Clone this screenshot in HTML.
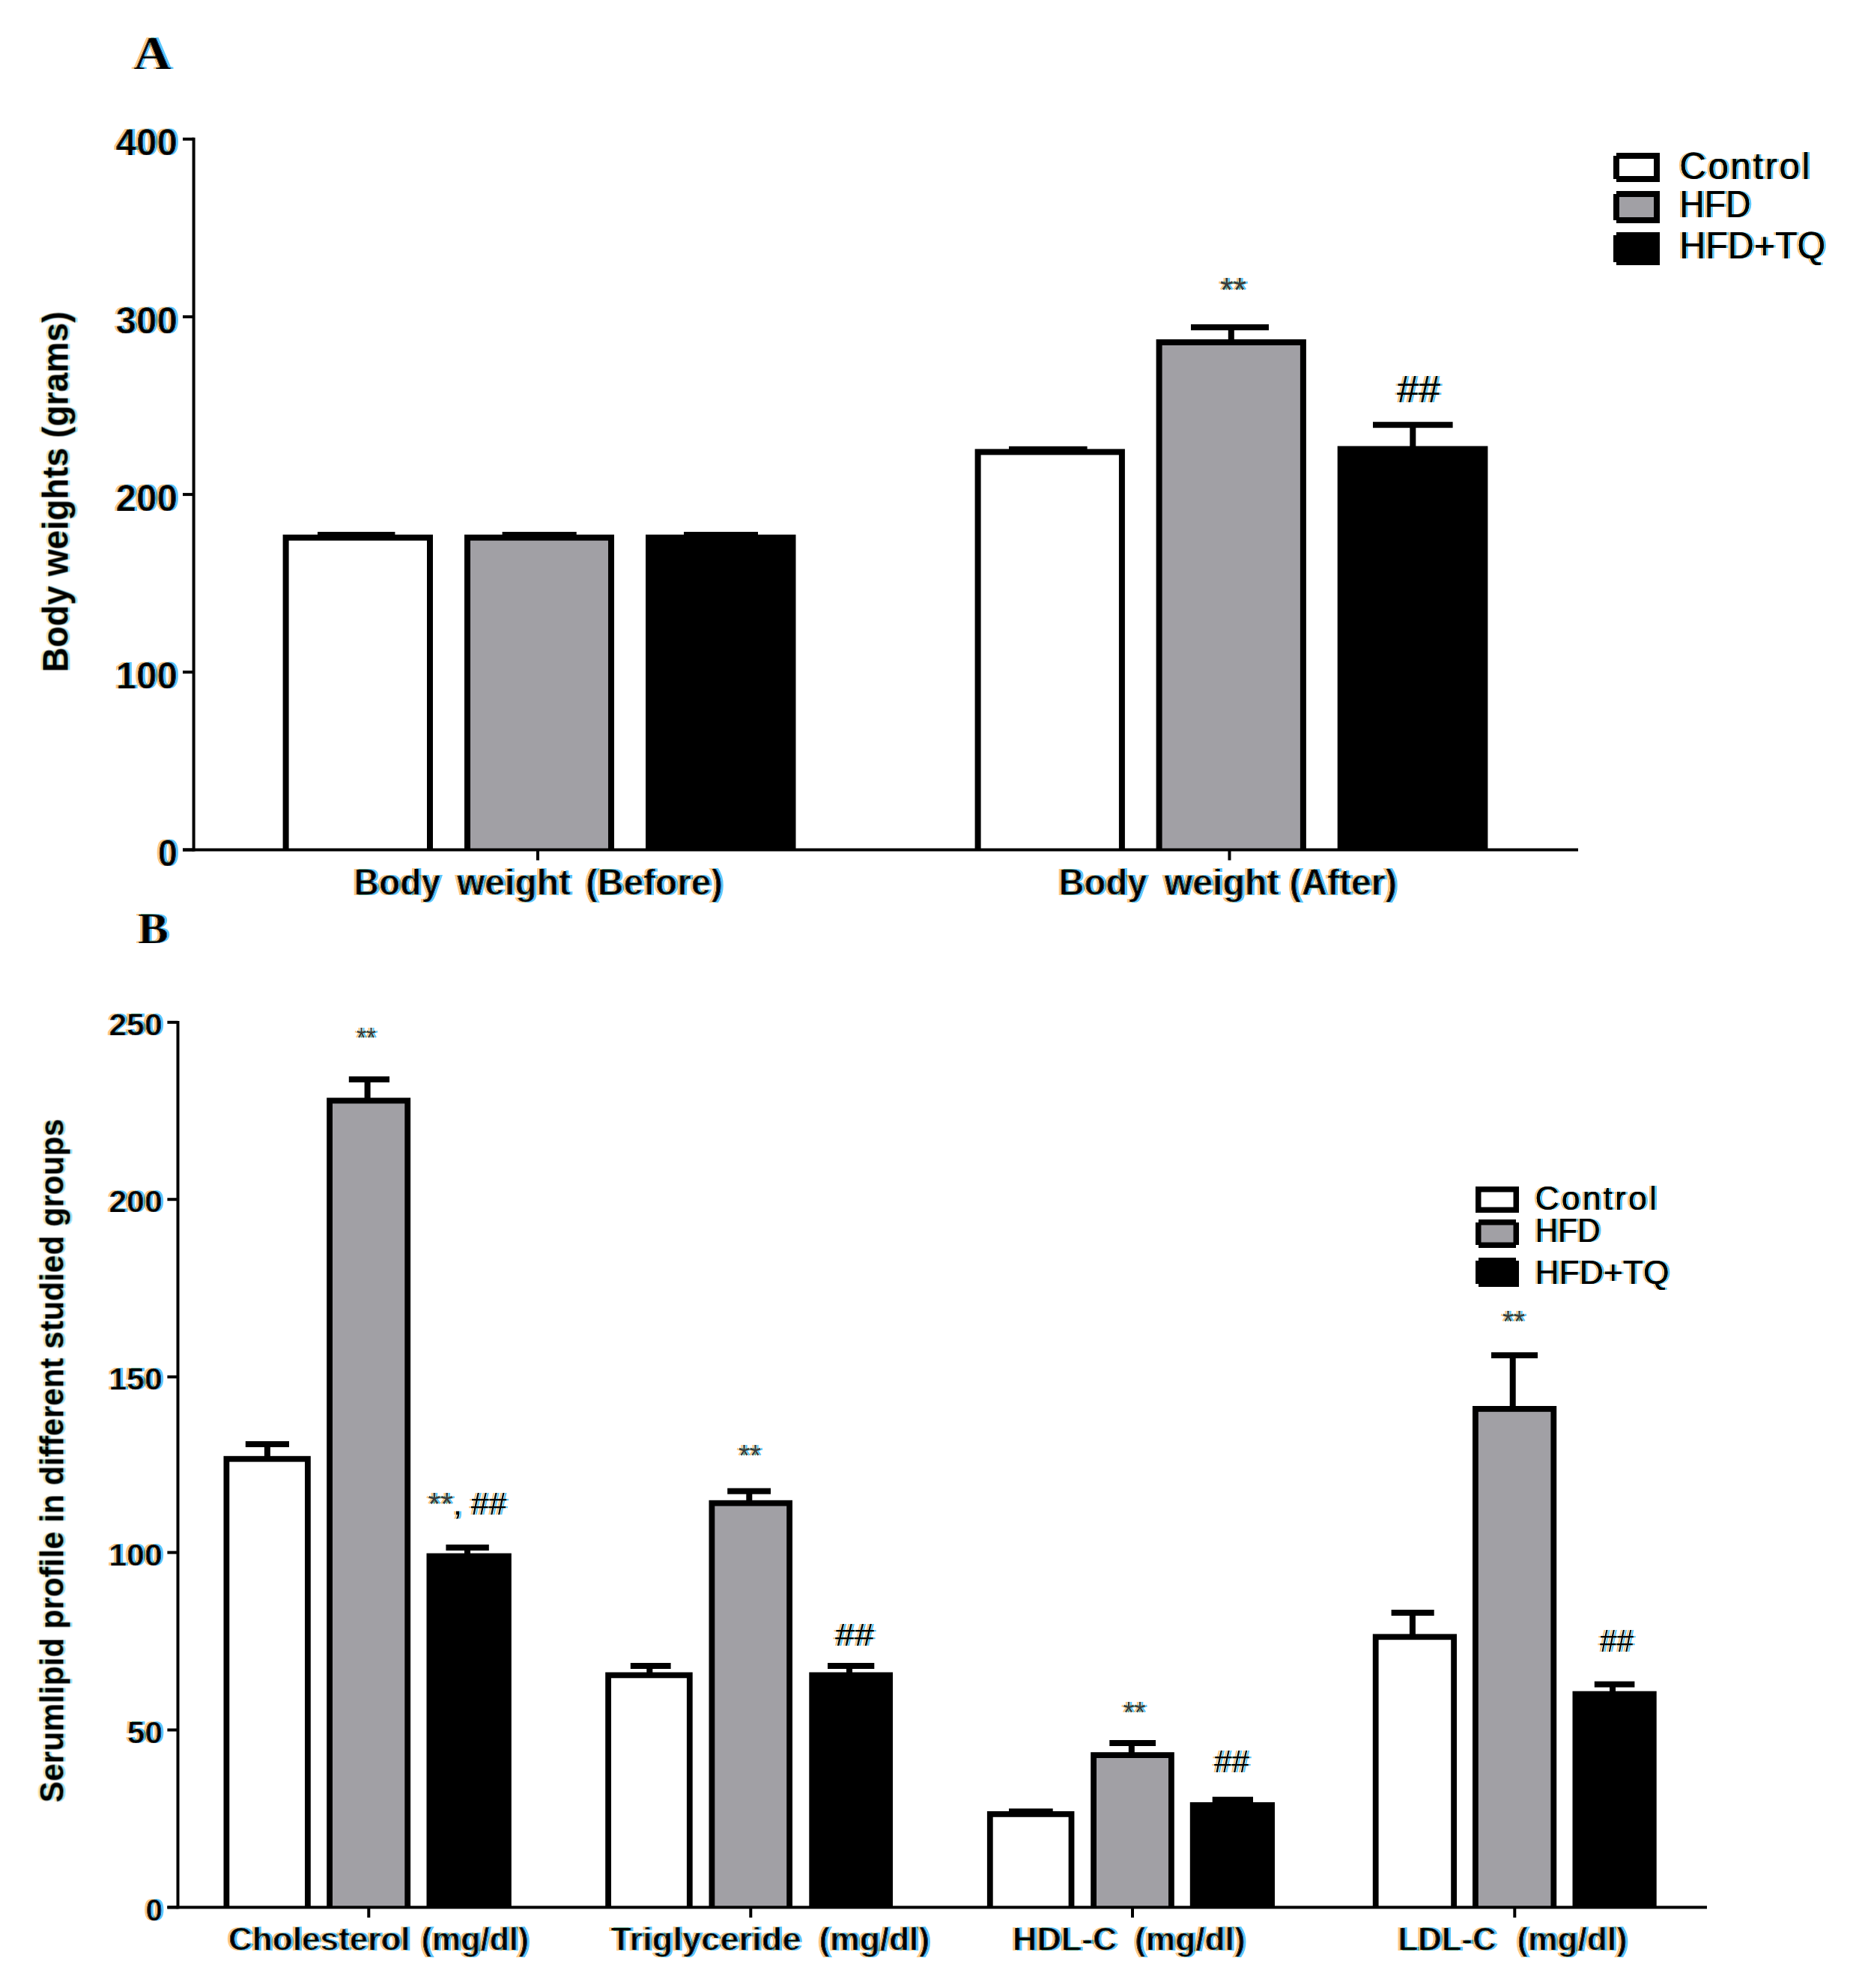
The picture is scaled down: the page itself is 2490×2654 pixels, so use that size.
<!DOCTYPE html>
<html><head><meta charset="utf-8"><title>Figure</title>
<style>html,body{margin:0;padding:0;background:#fff}svg{display:block}text{fill:#000}</style>
</head><body>
<svg width="2490" height="2654" viewBox="0 0 2490 2654">
<defs>
<filter id="ct" x="-10%" y="-20%" width="120%" height="140%" color-interpolation-filters="sRGB"><feOffset in="SourceGraphic" dx="0" dy="0" result="base"/><feOffset in="SourceAlpha" dx="-3.0" dy="0" result="l"/><feFlood flood-color="#ffc982" result="fo"/><feComposite in="fo" in2="l" operator="in" result="lo"/><feOffset in="SourceAlpha" dx="3.0" dy="0" result="r"/><feFlood flood-color="#5ac8ff" result="fc"/><feComposite in="fc" in2="r" operator="in" result="ro"/><feBlend in="lo" in2="ro" mode="multiply" result="fr"/><feMerge><feMergeNode in="fr"/><feMergeNode in="base"/></feMerge></filter>
<filter id="ctb" x="-10%" y="-20%" width="120%" height="140%" color-interpolation-filters="sRGB"><feOffset in="SourceGraphic" dx="0" dy="0.5" result="b1"/><feOffset in="SourceGraphic" dx="0" dy="-0.5" result="b2"/><feComposite in="b1" in2="b2" operator="in" result="base"/><feOffset in="SourceAlpha" dx="-3.2" dy="0" result="l"/><feFlood flood-color="#ffc982" result="fo"/><feComposite in="fo" in2="l" operator="in" result="lo"/><feOffset in="SourceAlpha" dx="3.2" dy="0" result="r"/><feFlood flood-color="#5ac8ff" result="fc"/><feComposite in="fc" in2="r" operator="in" result="ro"/><feBlend in="lo" in2="ro" mode="multiply" result="fr"/><feOffset in="base" dx="1.2" dy="0" result="s1"/><feComposite in="base" in2="s1" operator="out" result="sl"/><feFlood flood-color="#8a4010" result="fsl"/><feComposite in="fsl" in2="sl" operator="in" result="slo"/><feOffset in="base" dx="-1.2" dy="0" result="s2"/><feComposite in="base" in2="s2" operator="out" result="sr"/><feFlood flood-color="#0c48a8" result="fsr"/><feComposite in="fsr" in2="sr" operator="in" result="sro"/><feMerge><feMergeNode in="fr"/><feMergeNode in="base"/><feMergeNode in="slo"/><feMergeNode in="sro"/></feMerge></filter>
<filter id="ctvb" x="-5%" y="-40%" width="110%" height="180%" color-interpolation-filters="sRGB"><feOffset in="SourceGraphic" dx="0" dy="0" result="base"/><feOffset in="SourceAlpha" dx="0" dy="-3.2" result="l"/><feFlood flood-color="#ffe2a0" result="fo"/><feComposite in="fo" in2="l" operator="in" result="lo"/><feOffset in="SourceAlpha" dx="0" dy="3.2" result="r"/><feFlood flood-color="#8fe0ff" result="fc"/><feComposite in="fc" in2="r" operator="in" result="ro"/><feBlend in="lo" in2="ro" mode="multiply" result="fr"/><feMerge><feMergeNode in="fr"/><feMergeNode in="base"/></feMerge></filter>
<filter id="ctx" x="-10%" y="-20%" width="120%" height="140%" color-interpolation-filters="sRGB"><feOffset in="SourceGraphic" dx="0" dy="0.6" result="b1"/><feOffset in="SourceGraphic" dx="0" dy="-0.6" result="b2"/><feComposite in="b1" in2="b2" operator="in" result="base"/><feOffset in="SourceAlpha" dx="-3.1" dy="0" result="l"/><feFlood flood-color="#ffc982" result="fo"/><feComposite in="fo" in2="l" operator="in" result="lo"/><feOffset in="SourceAlpha" dx="3.1" dy="0" result="r"/><feFlood flood-color="#5ac8ff" result="fc"/><feComposite in="fc" in2="r" operator="in" result="ro"/><feBlend in="lo" in2="ro" mode="multiply" result="fr"/><feOffset in="base" dx="1.4" dy="0" result="s1"/><feComposite in="base" in2="s1" operator="out" result="sl"/><feFlood flood-color="#8a4010" result="fsl"/><feComposite in="fsl" in2="sl" operator="in" result="slo"/><feOffset in="base" dx="-1.4" dy="0" result="s2"/><feComposite in="base" in2="s2" operator="out" result="sr"/><feFlood flood-color="#0c48a8" result="fsr"/><feComposite in="fsr" in2="sr" operator="in" result="sro"/><feMerge><feMergeNode in="fr"/><feMergeNode in="base"/><feMergeNode in="slo"/><feMergeNode in="sro"/></feMerge></filter>
<filter id="ctl" x="-10%" y="-20%" width="120%" height="140%" color-interpolation-filters="sRGB"><feOffset in="SourceGraphic" dx="0.3" dy="0" result="b1"/><feOffset in="SourceGraphic" dx="-0.3" dy="0" result="b2"/><feComposite in="b1" in2="b2" operator="over" result="base"/><feOffset in="SourceAlpha" dx="-3.0" dy="0" result="l"/><feFlood flood-color="#ffc982" result="fo"/><feComposite in="fo" in2="l" operator="in" result="lo"/><feOffset in="SourceAlpha" dx="3.0" dy="0" result="r"/><feFlood flood-color="#5ac8ff" result="fc"/><feComposite in="fc" in2="r" operator="in" result="ro"/><feBlend in="lo" in2="ro" mode="multiply" result="fr"/><feMerge><feMergeNode in="fr"/><feMergeNode in="base"/></feMerge></filter>
</defs>
<rect x="0" y="0" width="2490" height="2654" fill="#fff"/>
<text x="178.0" y="92.0" font-family='"Liberation Serif", "Times New Roman", serif' font-size="63" font-weight="bold" text-anchor="start" textLength="51.0" lengthAdjust="spacingAndGlyphs" filter="url(#ctb)">A</text>
<rect x="244.0" y="183.7" width="14.6" height="4.0" fill="#000"/>
<text x="237.0" y="207.4" font-family='"Liberation Sans", Arial, Helvetica, sans-serif' font-size="50" font-weight="bold" text-anchor="end" textLength="82.6" lengthAdjust="spacingAndGlyphs" filter="url(#ctb)">400</text>
<rect x="244.0" y="420.9" width="14.6" height="4.0" fill="#000"/>
<text x="237.0" y="444.6" font-family='"Liberation Sans", Arial, Helvetica, sans-serif' font-size="50" font-weight="bold" text-anchor="end" textLength="82.6" lengthAdjust="spacingAndGlyphs" filter="url(#ctb)">300</text>
<rect x="244.0" y="658.1" width="14.6" height="4.0" fill="#000"/>
<text x="237.0" y="681.8" font-family='"Liberation Sans", Arial, Helvetica, sans-serif' font-size="50" font-weight="bold" text-anchor="end" textLength="82.6" lengthAdjust="spacingAndGlyphs" filter="url(#ctb)">200</text>
<rect x="244.0" y="895.3" width="14.6" height="4.0" fill="#000"/>
<text x="237.0" y="919.0" font-family='"Liberation Sans", Arial, Helvetica, sans-serif' font-size="50" font-weight="bold" text-anchor="end" textLength="82.6" lengthAdjust="spacingAndGlyphs" filter="url(#ctb)">100</text>
<rect x="244.0" y="1132.5" width="14.6" height="4.0" fill="#000"/>
<text x="237.0" y="1156.2" font-family='"Liberation Sans", Arial, Helvetica, sans-serif' font-size="50" font-weight="bold" text-anchor="end" textLength="26.2" lengthAdjust="spacingAndGlyphs" filter="url(#ctb)">0</text>
<rect x="716.0" y="1134.5" width="4.0" height="14.0" fill="#000"/>
<rect x="1639.5" y="1134.5" width="4.0" height="14.0" fill="#000"/>
<text x="90.0" y="897.5" font-family='"Liberation Sans", Arial, Helvetica, sans-serif' font-size="47.5" font-weight="bold" text-anchor="start" textLength="482.0" lengthAdjust="spacingAndGlyphs" transform="rotate(-90 90.0 897.5)" filter="url(#ctvb)">Body weights (grams)</text>
<rect x="377.6" y="713.7" width="200.4" height="420.8" fill="#000"/>
<rect x="385.6" y="721.7" width="184.4" height="412.8" fill="#fff"/>
<rect x="620.0" y="713.7" width="200.0" height="420.8" fill="#000"/>
<rect x="628.0" y="721.7" width="184.0" height="412.8" fill="#a1a0a5"/>
<rect x="862.0" y="713.7" width="200.5" height="420.8" fill="#000"/>
<rect x="1301.6" y="599.4" width="200.3" height="535.1" fill="#000"/>
<rect x="1309.6" y="607.4" width="184.3" height="527.1" fill="#fff"/>
<rect x="1543.6" y="453.0" width="200.3" height="681.5" fill="#000"/>
<rect x="1551.6" y="461.0" width="184.3" height="673.5" fill="#a1a0a5"/>
<rect x="1785.7" y="595.5" width="200.7" height="539.0" fill="#000"/>
<rect x="256.6" y="183.7" width="4.0" height="952.8" fill="#000"/>
<rect x="244.0" y="1132.5" width="1863.0" height="4.0" fill="#000"/>
<rect x="424.0" y="710.0" width="103.4" height="8.0" fill="#000"/>
<rect x="670.6" y="710.0" width="99.1" height="8.0" fill="#000"/>
<rect x="913.0" y="710.0" width="99.0" height="8.0" fill="#000"/>
<rect x="1347.0" y="595.8" width="104.6" height="8.2" fill="#000"/>
<rect x="1590.0" y="432.9" width="104.0" height="8.0" fill="#000"/>
<rect x="1639.8" y="436.9" width="8.0" height="17.1" fill="#000"/>
<rect x="1833.0" y="563.2" width="106.6" height="8.0" fill="#000"/>
<rect x="1882.3" y="567.2" width="8.0" height="29.3" fill="#000"/>
<text y="1195.2" font-family='"Liberation Sans", Arial, Helvetica, sans-serif' font-size="49.5" font-weight="bold" filter="url(#ctx)"><tspan x="472.50" textLength="115.83" lengthAdjust="spacingAndGlyphs">Body</tspan> <tspan x="610.00" textLength="152.02" lengthAdjust="spacingAndGlyphs">weight</tspan> <tspan x="782.00" textLength="183.23" lengthAdjust="spacingAndGlyphs">(Before)</tspan></text>
<text y="1195.2" font-family='"Liberation Sans", Arial, Helvetica, sans-serif' font-size="49.5" font-weight="bold" filter="url(#ctx)"><tspan x="1413.50" textLength="117.93" lengthAdjust="spacingAndGlyphs">Body</tspan> <tspan x="1554.50" textLength="153.22" lengthAdjust="spacingAndGlyphs">weight</tspan> <tspan x="1721.50" textLength="143.77" lengthAdjust="spacingAndGlyphs">(After)</tspan></text>
<text x="1629.0" y="402.5" style="fill:#3a3a3a" font-family='"Liberation Sans", Arial, Helvetica, sans-serif' font-size="46" font-weight="normal" text-anchor="start" textLength="35.0" lengthAdjust="spacingAndGlyphs" filter="url(#ct)">**</text>
<text x="1865.0" y="536.5" font-family='"Liberation Sans", Arial, Helvetica, sans-serif' font-size="50" font-weight="normal" text-anchor="start" textLength="58.0" lengthAdjust="spacingAndGlyphs" filter="url(#ct)">##</text>
<rect x="2154.0" y="204.0" width="62.0" height="39.0" fill="#000"/>
<rect x="2162.0" y="212.0" width="46.0" height="23.0" fill="#fff"/>
<rect x="2154.0" y="204.0" width="4.0" height="4.0" fill="#fff"/>
<rect x="2154.0" y="239.0" width="4.0" height="4.0" fill="#fff"/>
<text x="2242.2" y="238.6" font-family='"Liberation Sans", Arial, Helvetica, sans-serif' font-size="49.4" font-weight="normal" text-anchor="start" textLength="174.3" lengthAdjust="spacing" filter="url(#ctl)">Control</text>
<rect x="2154.0" y="255.0" width="62.0" height="43.0" fill="#000"/>
<rect x="2162.0" y="263.0" width="46.0" height="27.0" fill="#a1a0a5"/>
<rect x="2154.0" y="255.0" width="4.0" height="4.0" fill="#fff"/>
<rect x="2154.0" y="294.0" width="4.0" height="4.0" fill="#fff"/>
<text x="2242.2" y="289.8" font-family='"Liberation Sans", Arial, Helvetica, sans-serif' font-size="49.4" font-weight="normal" text-anchor="start" textLength="95.3" lengthAdjust="spacingAndGlyphs" filter="url(#ctl)">HFD</text>
<rect x="2154.0" y="310.0" width="62.0" height="44.0" fill="#000"/>
<rect x="2154.0" y="310.0" width="4.0" height="4.0" fill="#fff"/>
<rect x="2154.0" y="350.0" width="4.0" height="4.0" fill="#fff"/>
<text x="2242.2" y="345.2" font-family='"Liberation Sans", Arial, Helvetica, sans-serif' font-size="49.4" font-weight="normal" text-anchor="start" textLength="195.1" lengthAdjust="spacingAndGlyphs" filter="url(#ctl)">HFD+TQ</text>
<text x="184.0" y="1258.8" font-family='"Liberation Serif", "Times New Roman", serif' font-size="60" font-weight="bold" text-anchor="start" textLength="41.0" lengthAdjust="spacingAndGlyphs" filter="url(#ctb)">B</text>
<rect x="223.4" y="1362.8" width="14.1" height="4.0" fill="#000"/>
<text x="217.0" y="1382.0" font-family='"Liberation Sans", Arial, Helvetica, sans-serif' font-size="42" font-weight="bold" text-anchor="end" textLength="71.8" lengthAdjust="spacingAndGlyphs" filter="url(#ctb)">250</text>
<rect x="223.4" y="1599.2" width="14.1" height="4.0" fill="#000"/>
<text x="217.0" y="1618.4" font-family='"Liberation Sans", Arial, Helvetica, sans-serif' font-size="42" font-weight="bold" text-anchor="end" textLength="71.8" lengthAdjust="spacingAndGlyphs" filter="url(#ctb)">200</text>
<rect x="223.4" y="1836.2" width="14.1" height="4.0" fill="#000"/>
<text x="217.0" y="1855.4" font-family='"Liberation Sans", Arial, Helvetica, sans-serif' font-size="42" font-weight="bold" text-anchor="end" textLength="71.8" lengthAdjust="spacingAndGlyphs" filter="url(#ctb)">150</text>
<rect x="223.4" y="2070.6" width="14.1" height="4.0" fill="#000"/>
<text x="217.0" y="2089.8" font-family='"Liberation Sans", Arial, Helvetica, sans-serif' font-size="42" font-weight="bold" text-anchor="end" textLength="71.8" lengthAdjust="spacingAndGlyphs" filter="url(#ctb)">100</text>
<rect x="223.4" y="2307.5" width="14.1" height="4.0" fill="#000"/>
<text x="217.0" y="2326.7" font-family='"Liberation Sans", Arial, Helvetica, sans-serif' font-size="42" font-weight="bold" text-anchor="end" textLength="47.2" lengthAdjust="spacingAndGlyphs" filter="url(#ctb)">50</text>
<rect x="223.4" y="2544.3" width="14.1" height="4.0" fill="#000"/>
<text x="217.0" y="2563.5" font-family='"Liberation Sans", Arial, Helvetica, sans-serif' font-size="42" font-weight="bold" text-anchor="end" textLength="22.6" lengthAdjust="spacingAndGlyphs" filter="url(#ctb)">0</text>
<rect x="490.3" y="2546.3" width="4.0" height="13.7" fill="#000"/>
<rect x="1000.3" y="2546.3" width="4.0" height="13.7" fill="#000"/>
<rect x="1510.0" y="2546.3" width="4.0" height="13.7" fill="#000"/>
<rect x="2020.3" y="2546.3" width="4.0" height="13.7" fill="#000"/>
<text x="84.0" y="2406.5" font-family='"Liberation Sans", Arial, Helvetica, sans-serif' font-size="43.5" font-weight="bold" text-anchor="start" textLength="913.0" lengthAdjust="spacingAndGlyphs" transform="rotate(-90 84.0 2406.5)" filter="url(#ctvb)">Serumlipid profile in different studied groups</text>
<rect x="298.5" y="1943.8" width="116.3" height="602.5" fill="#000"/>
<rect x="306.3" y="1951.6" width="100.7" height="594.7" fill="#fff"/>
<rect x="436.2" y="1465.5" width="111.9" height="1080.8" fill="#000"/>
<rect x="444.0" y="1473.3" width="96.3" height="1073.0" fill="#a1a0a5"/>
<rect x="569.5" y="2073.6" width="113.3" height="472.7" fill="#000"/>
<rect x="808.2" y="2232.5" width="116.5" height="313.8" fill="#000"/>
<rect x="816.0" y="2240.3" width="100.9" height="306.0" fill="#fff"/>
<rect x="946.5" y="2002.8" width="111.5" height="543.5" fill="#000"/>
<rect x="954.3" y="2010.6" width="95.9" height="535.7" fill="#a1a0a5"/>
<rect x="1080.3" y="2232.5" width="111.7" height="313.8" fill="#000"/>
<rect x="1317.9" y="2418.0" width="116.5" height="128.3" fill="#000"/>
<rect x="1325.7" y="2425.8" width="100.9" height="120.5" fill="#fff"/>
<rect x="1456.2" y="2339.2" width="111.6" height="207.1" fill="#000"/>
<rect x="1464.0" y="2347.0" width="96.0" height="199.3" fill="#a1a0a5"/>
<rect x="1588.8" y="2406.0" width="113.2" height="140.3" fill="#000"/>
<rect x="1832.8" y="2181.4" width="112.2" height="364.9" fill="#000"/>
<rect x="1840.6" y="2189.2" width="96.6" height="357.1" fill="#fff"/>
<rect x="1966.0" y="1877.0" width="112.2" height="669.3" fill="#000"/>
<rect x="1973.8" y="1884.8" width="96.6" height="661.5" fill="#a1a0a5"/>
<rect x="2099.5" y="2257.7" width="112.2" height="288.6" fill="#000"/>
<rect x="235.5" y="1363.0" width="4.0" height="1185.3" fill="#000"/>
<rect x="223.4" y="2544.3" width="2055.6" height="4.0" fill="#000"/>
<rect x="327.8" y="1924.0" width="58.2" height="8.0" fill="#000"/>
<rect x="352.9" y="1928.0" width="8.0" height="16.8" fill="#000"/>
<rect x="465.8" y="1437.0" width="54.2" height="8.0" fill="#000"/>
<rect x="486.6" y="1441.0" width="8.0" height="25.5" fill="#000"/>
<rect x="595.4" y="2062.0" width="57.4" height="8.0" fill="#000"/>
<rect x="620.0" y="2066.0" width="8.0" height="8.6" fill="#000"/>
<rect x="841.8" y="2220.0" width="53.8" height="8.0" fill="#000"/>
<rect x="863.3" y="2224.0" width="8.0" height="9.5" fill="#000"/>
<rect x="971.2" y="1986.7" width="57.8" height="8.0" fill="#000"/>
<rect x="996.3" y="1990.7" width="8.0" height="13.1" fill="#000"/>
<rect x="1105.0" y="2220.0" width="62.3" height="8.0" fill="#000"/>
<rect x="1130.0" y="2224.0" width="8.0" height="9.5" fill="#000"/>
<rect x="1347.0" y="2414.4" width="58.7" height="7.6" fill="#000"/>
<rect x="1481.3" y="2323.0" width="61.7" height="8.0" fill="#000"/>
<rect x="1506.8" y="2327.0" width="8.0" height="13.2" fill="#000"/>
<rect x="1618.7" y="2398.7" width="54.3" height="9.3" fill="#000"/>
<rect x="1857.6" y="2149.0" width="57.1" height="8.0" fill="#000"/>
<rect x="1881.9" y="2153.0" width="8.0" height="29.4" fill="#000"/>
<rect x="1991.0" y="1805.3" width="62.0" height="8.0" fill="#000"/>
<rect x="2015.7" y="1809.3" width="8.0" height="68.7" fill="#000"/>
<rect x="2128.8" y="2244.6" width="53.6" height="8.0" fill="#000"/>
<rect x="2149.0" y="2248.6" width="8.0" height="10.1" fill="#000"/>
<text y="2603.6" font-family='"Liberation Sans", Arial, Helvetica, sans-serif' font-size="45" font-weight="bold" filter="url(#ctx)"><tspan x="305.00" textLength="242.62" lengthAdjust="spacingAndGlyphs">Cholesterol</tspan> <tspan x="562.50" textLength="143.70" lengthAdjust="spacingAndGlyphs">(mg/dl)</tspan></text>
<text y="2603.6" font-family='"Liberation Sans", Arial, Helvetica, sans-serif' font-size="45" font-weight="bold" filter="url(#ctx)"><tspan x="815.50" textLength="253.91" lengthAdjust="spacing">Triglyceride</tspan> <tspan x="1093.50" textLength="147.67" lengthAdjust="spacingAndGlyphs">(mg/dl)</tspan></text>
<text y="2603.6" font-family='"Liberation Sans", Arial, Helvetica, sans-serif' font-size="45" font-weight="bold" filter="url(#ctx)"><tspan x="1352.00" textLength="139.45" lengthAdjust="spacingAndGlyphs">HDL-C</tspan> <tspan x="1515.00" textLength="147.67" lengthAdjust="spacingAndGlyphs">(mg/dl)</tspan></text>
<text y="2603.6" font-family='"Liberation Sans", Arial, Helvetica, sans-serif' font-size="45" font-weight="bold" filter="url(#ctx)"><tspan x="1866.50" textLength="131.25" lengthAdjust="spacingAndGlyphs">LDL-C</tspan> <tspan x="2025.50" textLength="147.10" lengthAdjust="spacingAndGlyphs">(mg/dl)</tspan></text>
<text x="476.0" y="1398.5" style="fill:#3a3a3a" font-family='"Liberation Sans", Arial, Helvetica, sans-serif' font-size="38" font-weight="normal" text-anchor="start" textLength="26.0" lengthAdjust="spacingAndGlyphs" filter="url(#ct)">**</text>
<text x="986.0" y="1956.5" style="fill:#3a3a3a" font-family='"Liberation Sans", Arial, Helvetica, sans-serif' font-size="40" font-weight="normal" text-anchor="start" textLength="30.0" lengthAdjust="spacingAndGlyphs" filter="url(#ct)">**</text>
<text x="1499.5" y="2299.5" style="fill:#3a3a3a" font-family='"Liberation Sans", Arial, Helvetica, sans-serif' font-size="40" font-weight="normal" text-anchor="start" textLength="30.0" lengthAdjust="spacingAndGlyphs" filter="url(#ct)">**</text>
<text x="2006.0" y="1777.8" style="fill:#3a3a3a" font-family='"Liberation Sans", Arial, Helvetica, sans-serif' font-size="40" font-weight="normal" text-anchor="start" textLength="30.0" lengthAdjust="spacingAndGlyphs" filter="url(#ct)">**</text>
<text x="571.5" y="2021.8" font-family='"Liberation Sans", Arial, Helvetica, sans-serif' font-size="42" font-weight="normal" text-anchor="start" textLength="105.0" lengthAdjust="spacingAndGlyphs" filter="url(#ct)"><tspan style="fill:#3a3a3a">**</tspan>, ##</text>
<text x="1115.0" y="2196.5" font-family='"Liberation Sans", Arial, Helvetica, sans-serif' font-size="42" font-weight="normal" text-anchor="start" textLength="52.0" lengthAdjust="spacingAndGlyphs" filter="url(#ct)">##</text>
<text x="1621.0" y="2366.3" font-family='"Liberation Sans", Arial, Helvetica, sans-serif' font-size="42" font-weight="normal" text-anchor="start" textLength="47.0" lengthAdjust="spacingAndGlyphs" filter="url(#ct)">##</text>
<text x="2136.0" y="2204.6" font-family='"Liberation Sans", Arial, Helvetica, sans-serif' font-size="42" font-weight="normal" text-anchor="start" textLength="45.0" lengthAdjust="spacingAndGlyphs" filter="url(#ct)">##</text>
<rect x="1970.0" y="1584.0" width="58.0" height="35.0" fill="#000"/>
<rect x="1977.5" y="1591.5" width="43.0" height="20.0" fill="#fff"/>
<text x="2049.4" y="1614.7" font-family='"Liberation Sans", Arial, Helvetica, sans-serif' font-size="44.6" font-weight="normal" text-anchor="start" textLength="162.5" lengthAdjust="spacing" filter="url(#ctl)">Control</text>
<rect x="1970.0" y="1628.0" width="58.0" height="38.0" fill="#000"/>
<rect x="1977.5" y="1635.5" width="43.0" height="23.0" fill="#a1a0a5"/>
<rect x="1970.0" y="1628.0" width="4.0" height="4.0" fill="#fff"/>
<rect x="1970.0" y="1662.0" width="4.0" height="4.0" fill="#fff"/>
<rect x="2024.0" y="1628.0" width="4.0" height="4.0" fill="#fff"/>
<rect x="2024.0" y="1662.0" width="4.0" height="4.0" fill="#fff"/>
<text x="2049.4" y="1658.2" font-family='"Liberation Sans", Arial, Helvetica, sans-serif' font-size="44.6" font-weight="normal" text-anchor="start" textLength="87.1" lengthAdjust="spacingAndGlyphs" filter="url(#ctl)">HFD</text>
<rect x="1970.0" y="1679.0" width="58.0" height="39.0" fill="#000"/>
<rect x="1970.0" y="1679.0" width="4.0" height="4.0" fill="#fff"/>
<rect x="1970.0" y="1714.0" width="4.0" height="4.0" fill="#fff"/>
<rect x="2024.0" y="1679.0" width="4.0" height="4.0" fill="#fff"/>
<text x="2049.4" y="1714.0" font-family='"Liberation Sans", Arial, Helvetica, sans-serif' font-size="44.6" font-weight="normal" text-anchor="start" textLength="179.1" lengthAdjust="spacingAndGlyphs" filter="url(#ctl)">HFD+TQ</text>
</svg>
</body></html>
